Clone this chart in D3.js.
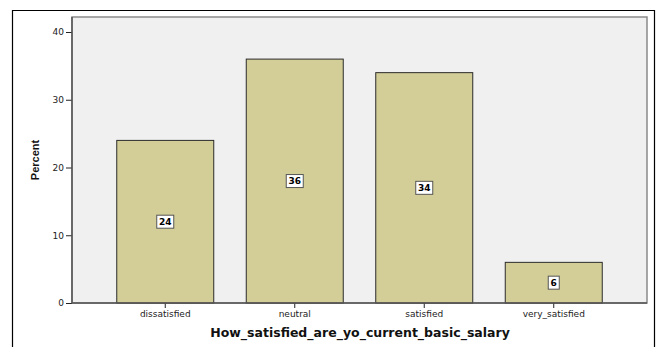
<!DOCTYPE html>
<html>
<head>
<meta charset="utf-8">
<script src="https://cdn.jsdelivr.net/npm/d3@7"></script>
<style>
  html, body { margin: 0; padding: 0; background: #fff; }
  svg { display: block; font-family: "DejaVu Sans", Verdana, sans-serif; }
</style>
</head>
<body>
<svg id="chart" width="661" height="347"></svg>
<script>
// Satisfaction with current basic salary, percent of respondents
const categories = ["dissatisfied", "neutral", "satisfied", "very_satisfied"];
const percents = [24, 36, 34, 6];
const yTicks = [0, 10, 20, 30, 40];
const xTitle = "How_satisfied_are_yo_current_basic_salary";
const yTitle = "Percent";

const svg = d3.select("#chart");
const plot = { left: 72, right: 647, top: 17, bottom: 303 };

const x = d3.scaleBand()
  .domain(categories)
  .range([plot.left, plot.right])
  .paddingInner(0.251)
  .paddingOuter(0.3456);

const y = d3.scaleLinear()
  .domain([0, 40])
  .range([303, 32]);

// outer frame (open at the bottom)
svg.append("path")
  .attr("d", "M12.5,347 V10.5 H654.5 V347")
  .attr("fill", "none")
  .attr("stroke", "#000")
  .attr("stroke-width", 1.2);

// plot background
svg.append("rect")
  .attr("x", plot.left).attr("y", plot.top)
  .attr("width", plot.right - plot.left).attr("height", plot.bottom - plot.top)
  .attr("fill", "#f0f0f0")
  .attr("stroke", "#8a8a8a")
  .attr("stroke-width", 1.5);

// bars
svg.append("g").selectAll("rect")
  .data(categories)
  .join("rect")
  .attr("x", d => x(d))
  .attr("y", (d, i) => y(percents[i]))
  .attr("width", x.bandwidth())
  .attr("height", (d, i) => y(0) - y(percents[i]))
  .attr("fill", "#d3ce97")
  .attr("stroke", "#2b2b2b")
  .attr("stroke-width", 1);

// value labels in boxes at mid-height
const labels = svg.append("g").selectAll("g")
  .data(categories)
  .join("g")
  .attr("transform", (d, i) => `translate(${x(d) + x.bandwidth() / 2},${(y(0) + y(percents[i])) / 2})`);

labels.append("rect")
  .attr("x", (d, i) => String(percents[i]).length > 1 ? -8.5 : -5.5)
  .attr("y", -6.5)
  .attr("width", (d, i) => String(percents[i]).length > 1 ? 17 : 11)
  .attr("height", 13)
  .attr("fill", "#fff")
  .attr("stroke", "#555")
  .attr("stroke-width", 1);

labels.append("text")
  .attr("text-anchor", "middle")
  .attr("dy", "0.35em")
  .attr("font-size", 9)
  .attr("font-weight", "bold")
  .attr("fill", "#000")
  .text((d, i) => percents[i]);

// y axis
const yAxis = svg.append("g")
  .attr("transform", `translate(${plot.left},0)`)
  .call(d3.axisLeft(y).tickValues(yTicks).tickSize(6).tickSizeOuter(0).tickPadding(2));
yAxis.select(".domain").remove();
yAxis.selectAll(".tick line").attr("stroke", "#222");
yAxis.selectAll(".tick text").attr("font-size", 9).attr("fill", "#222")
  .attr("font-family", "DejaVu Sans, sans-serif");

// x axis
const xAxis = svg.append("g")
  .attr("transform", `translate(0,${plot.bottom})`)
  .call(d3.axisBottom(x).tickSize(5).tickSizeOuter(0).tickPadding(3));
xAxis.select(".domain").remove();
xAxis.selectAll(".tick line").attr("stroke", "#222");
xAxis.selectAll(".tick text").attr("font-size", 9).attr("fill", "#222")
  .attr("font-family", "DejaVu Sans, sans-serif");

// darker left and bottom frame edges
svg.append("path")
  .attr("d", `M${plot.left},${plot.top} V${plot.bottom} H${plot.right}`)
  .attr("fill", "none")
  .attr("stroke", "#555")
  .attr("stroke-width", 1.5);

// axis titles
svg.append("text")
  .attr("x", 360).attr("y", 337)
  .attr("text-anchor", "middle")
  .attr("font-size", 12.5)
  .attr("font-weight", "bold")
  .attr("fill", "#111")
  .text(xTitle);

svg.append("text")
  .attr("transform", "translate(39,160) rotate(-90)")
  .attr("text-anchor", "middle")
  .attr("font-size", 11)
  .attr("font-weight", "bold")
  .attr("font-family", "Liberation Sans Narrow, Liberation Sans, Arial, sans-serif")
  .attr("fill", "#111")
  .text(yTitle);
</script>
</body>
</html>
